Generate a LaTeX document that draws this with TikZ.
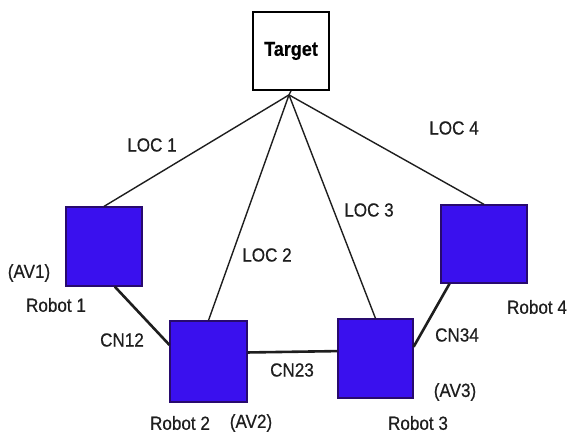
\documentclass[tikz,border=0pt]{standalone}
\usepackage{fontspec}
\setmainfont[FakeStretch=0.9, FakeBold=0.5]{Liberation Sans}
\usetikzlibrary{calc}
\definecolor{robotfill}{RGB}{58,16,238}
\definecolor{robotedge}{RGB}{40,10,110}
\definecolor{ink}{RGB}{30,30,30}
\tikzset{
  robot/.style={draw=robotedge, line width=1.2pt, fill=robotfill, inner sep=0pt},
  targetbox/.style={draw=black, line width=1.8pt, fill=white, minimum width=76pt, minimum height=78pt, inner sep=0pt,
    font=\fontsize{20}{22}\selectfont\bfseries},
  loc/.style={draw=ink, line width=1.4pt},
  cn/.style={draw=ink, line width=2.6pt},
  lbl/.style={text=ink, inner sep=0pt, font=\fontsize{19}{22}\selectfont}
}
\begin{document}
\begin{tikzpicture}[x=1pt, y=-1pt]
  \useasboundingbox (0,0) rectangle (572,436);

  % target and robots
  \node[targetbox] (target) at (291,51) {Target};
  \coordinate (apex) at ($(target.south)+(-2,4)$);
  \node[robot, minimum width=76pt, minimum height=79pt] (r1) at (104,246.5) {};
  \node[robot, minimum width=77pt, minimum height=81pt] (r2) at (208.5,361.5) {};
  \node[robot, minimum width=75pt, minimum height=79pt] (r3) at (375.5,358.5) {};
  \node[robot, minimum width=86pt, minimum height=78pt] (r4) at (484,244) {};

  % lines of sight to the target
  \draw[loc] (apex) -- (target.south);
  \draw[loc] (apex) -- (r1.north);
  \draw[loc] (apex) -- (r2.north);
  \draw[loc] (apex) -- (r3.north);
  \draw[loc] (apex) -- (r4.north);

  % communication links between neighbours
  \draw[cn] (r1.-75) -- (r2.157);
  \draw[cn] (r2.13) -- (r3.169);
  \draw[cn] (r4.-131) -- (r3.17);

  % labels
  \node[lbl] (loc1) at (152,145) {LOC 1};
  \node[lbl] (loc2) at (267,255) {LOC 2};
  \node[lbl] (loc3) at (369,210) {LOC 3};
  \node[lbl] (loc4) at (454,128) {LOC 4};
  \node[lbl] (av1) at (29,273) {(AV1)};
  \node[lbl] (n1) at (56,305) {Robot 1};
  \node[lbl] (cn12) at (122,340) {CN12};
  \node[lbl] (cn23) at (292,370) {CN23};
  \node[lbl] (cn34) at (457,335) {CN34};
  \node[lbl] (n2) at (180,423) {Robot 2};
  \node[lbl] (av2) at (251,423) {(AV2)};
  \node[lbl] (av3) at (455,392) {(AV3)};
  \node[lbl] (n3) at (418,423) {Robot 3};
  \node[lbl] (n4) at (537,307) {Robot 4};
\end{tikzpicture}
\end{document}
